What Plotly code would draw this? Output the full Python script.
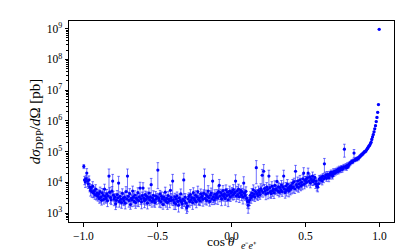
import numpy as np
import plotly.graph_objects as go

# bin centres of cos(theta), 400 bins of width 0.005
n_bins = 400
cos_theta = np.round(-0.9975 + 0.005 * np.arange(n_bins), 4)

# differential cross section [pb] (20 bins per line)
dsigma = [
    33000, 12000, 10500, 13000, 20000, 11000, 9000, 12000, 7000, 5500, 6500, 5000, 7500, 4500, 5200, 4000, 6000, 3800, 4500, 3500,
    4200, 3000, 5000, 3300, 2600, 4500, 3800, 2800, 6000, 3500, 3000, 4200, 2500, 3600, 16000, 4800, 3200, 2700, 5200, 11000,
    3800, 2900, 3300, 2000, 2600, 4000, 3100, 9500, 2400, 3500, 2800, 2200, 4400, 3000, 2500, 3300, 2100, 5000, 2900, 16000,
    3500, 2600, 4300, 1900, 3000, 2700, 5200, 3300, 2400, 3800, 2200, 3100, 2800, 4600, 2500, 3400, 6500, 2900, 2300, 3700,
    6500, 3000, 2500, 4000, 2800, 3500, 2100, 3200, 4500, 2700, 3300, 8400, 2400, 3000, 3800, 2600, 2200, 3600, 2900, 3400,
    25000, 3100, 2600, 4200, 2300, 3500, 2900, 1900, 3300, 2700, 4800, 2400, 3000, 2200, 3700, 2800, 2500, 5500, 3200, 2600,
    11000, 2700, 2200, 3400, 2000, 2900, 3600, 2400, 1800, 3100, 2600, 4200, 2300, 2000, 2800, 12000, 2500, 3300, 2100, 1500,
    1700, 2900, 3500, 2400, 4000, 2700, 3200, 2200, 4600, 3000, 2600, 3800, 2300, 3400, 5000, 2800, 3100, 2500, 4200, 3300,
    3600, 2800, 4400, 16000, 3000, 4000, 2600, 3500, 5200, 3200, 2400, 3800, 4500, 2900, 11000, 3400, 2700, 4100, 3100, 3700,
    4300, 3200, 5000, 8000, 3600, 4600, 2900, 3900, 5400, 3500, 4200, 3000, 5700, 3700, 4800, 2700, 4000, 5200, 3400, 4500,
    5000, 3800, 5800, 4200, 4700, 11000, 3600, 5300, 4000, 6000, 3400, 4600, 5500, 3900, 4900, 3300, 9500, 4400, 3700, 5100,
    3000, 2400, 1800, 2300, 2700, 3800, 3200, 4500, 3600, 5700, 4100, 3400, 5000, 30000, 4300, 3700, 5400, 4800, 4000, 6200,
    5500, 17000, 4700, 23000, 6300, 5200, 4200, 7000, 5800, 4500, 16000, 6600, 5000, 4300, 7500, 5400, 6100, 4600, 8000, 5700,
    6200, 10700, 5300, 7200, 4800, 6800, 5600, 8200, 5000, 7000, 16000, 6000, 4700, 7600, 5500, 8800, 6400, 5200, 7300, 6000,
    7800, 6500, 9500, 7000, 10500, 6200, 23000, 8500, 7300, 11000, 6800, 9000, 12000, 7600, 10000, 8200, 13000, 20000, 8800, 11500,
    12500, 10000, 14000, 20000, 11000, 15000, 9500, 13000, 11500, 16000, 10500, 12000, 14500, 9000, 11000, 7500, 7000, 9000, 12500, 13500,
    12000, 14500, 11000, 16000, 13000, 40000, 15000, 17500, 13500, 18000, 16500, 14000, 19000, 17000, 21000, 18500, 16000, 22000, 19500, 23000,
    21000, 24000, 22500, 26000, 23000, 28000, 25000, 27000, 30000, 26500, 29000, 32000, 120000, 31000, 34000, 30000, 36000, 33000, 38000, 40000,
    42000, 45000, 48000, 46000, 50000, 90000, 53000, 55000, 58000, 56000, 62000, 60000, 66000, 70000, 74000, 78000, 82000, 86000, 92000, 98000,
    100000, 105000, 115000, 125000, 135000, 150000, 160000, 180000, 200000, 250000, 300000, 360000, 440000, 550000, 700000, 950000, 1300000, 1900000, 3400000, 950000000,
]

# relative statistical uncertainty in percent
rel_err_pct = [
    15, 30, 35, 30, 40, 35, 30, 35, 30, 35, 30, 35, 40, 30, 35, 30, 40, 30, 35, 30,
    35, 30, 40, 35, 30, 40, 35, 30, 45, 35, 30, 40, 35, 30, 70, 40, 35, 30, 40, 65,
    35, 40, 30, 35, 40, 35, 30, 65, 35, 40, 30, 35, 40, 35, 30, 40, 35, 45, 30, 70,
    35, 40, 45, 30, 35, 40, 45, 35, 30, 40, 35, 30, 40, 45, 35, 30, 55, 35, 40, 30,
    50, 35, 40, 30, 35, 40, 35, 30, 45, 35, 40, 60, 35, 30, 40, 35, 30, 40, 35, 30,
    75, 35, 40, 30, 35, 40, 35, 30, 40, 35, 45, 35, 30, 40, 35, 30, 40, 50, 35, 30,
    65, 35, 40, 30, 35, 40, 35, 30, 40, 35, 30, 45, 35, 30, 40, 65, 35, 30, 40, 35,
    35, 40, 30, 35, 45, 35, 30, 40, 45, 35, 30, 40, 35, 30, 50, 35, 40, 30, 45, 35,
    35, 40, 30, 70, 35, 40, 30, 35, 50, 35, 30, 40, 45, 35, 65, 35, 30, 40, 35, 30,
    35, 40, 45, 55, 35, 30, 40, 35, 45, 30, 35, 40, 45, 35, 30, 40, 35, 45, 30, 35,
    35, 30, 45, 35, 30, 60, 35, 40, 30, 45, 35, 30, 40, 35, 30, 40, 60, 35, 30, 40,
    35, 40, 45, 40, 35, 30, 35, 40, 30, 45, 35, 30, 40, 70, 35, 30, 40, 35, 30, 45,
    30, 55, 30, 65, 35, 30, 35, 40, 30, 35, 55, 30, 35, 30, 40, 35, 30, 35, 40, 30,
    30, 50, 30, 35, 30, 35, 30, 40, 30, 35, 55, 30, 35, 30, 35, 40, 30, 35, 30, 35,
    30, 35, 30, 35, 30, 30, 55, 35, 30, 35, 30, 35, 40, 30, 35, 30, 40, 50, 30, 35,
    25, 30, 25, 45, 30, 25, 30, 25, 30, 35, 25, 30, 25, 30, 25, 30, 30, 25, 30, 25,
    25, 20, 25, 20, 25, 50, 20, 25, 20, 25, 20, 25, 20, 25, 20, 25, 20, 25, 20, 20,
    18, 20, 18, 20, 18, 20, 18, 20, 18, 20, 18, 20, 45, 18, 20, 18, 20, 15, 18, 15,
    14, 12, 14, 12, 14, 30, 12, 12, 12, 12, 10, 12, 10, 10, 10, 10, 10, 10, 8, 8,
    8, 8, 7, 7, 7, 6, 6, 6, 6, 6, 5, 5, 5, 5, 5, 5, 5, 5, 5, 3,
]

x_ticks = [-1.0, -0.5, 0.0, 0.5, 1.0]
x_tick_labels = ["\u22121.0", "\u22120.5", "0.0", "0.5", "1.0"]
y_exponents = [3, 4, 5, 6, 7, 8, 9]

y = np.array(dsigma, dtype=float)
err = y * np.array(rel_err_pct, dtype=float) / 100.0

font_family = "Liberation Serif, Times New Roman, serif"

fig = go.Figure()
fig.add_trace(go.Scatter(
    x=cos_theta, y=y, mode="markers",
    marker=dict(color="#0000ff", size=3.2, line=dict(width=0)),
    error_y=dict(type="data", array=err, visible=True,
                 color="rgba(30,30,255,0.7)", thickness=0.9, width=1.3),
    showlegend=False,
))

fig.update_layout(
    width=407, height=252,
    margin=dict(l=61, r=21, t=13, b=38),
    paper_bgcolor="white", plot_bgcolor="white",
    font=dict(family=font_family, size=11, color="black"),
)
# x-axis title: main part and subscript drawn as two adjacent texts
fig.add_annotation(
    xref="paper", yref="paper", x=0.517, y=-0.098, xanchor="right", yanchor="middle",
    text="cos\u2009<i>\u03b8</i>", showarrow=False, font=dict(size=13.5),
)
fig.add_annotation(
    xref="paper", yref="paper", x=0.522, y=-0.117, xanchor="left", yanchor="middle",
    text="<i>e</i>\u207b<i>e</i>\u207a", showarrow=False, font=dict(size=10),
)
fig.update_xaxes(
    range=[-1.0975, 1.0975],
    tickvals=x_ticks, ticktext=x_tick_labels,
    tickfont=dict(size=11.5),
    ticks="outside", ticklen=3.5, tickwidth=0.8, tickcolor="black",
    showline=True, mirror=True, linecolor="black", linewidth=1,
    showgrid=False, zeroline=False,
)
fig.update_yaxes(
    type="log", range=[2.71, 9.25],
    tickvals=[10.0 ** e for e in y_exponents],
    ticktext=[f"10<sup>{e}</sup>" for e in y_exponents],
    tickfont=dict(size=11.5),
    ticks="outside", ticklen=3.5, tickwidth=0.8, tickcolor="black",
    minor=dict(ticks="outside", ticklen=2, tickwidth=0.6, tickcolor="black", dtick="D1", showgrid=False),
    showline=True, mirror=True, linecolor="black", linewidth=1,
    showgrid=False, zeroline=False,
    title=dict(text="<i>d\u03c3</i><sub>DPP</sub>/<i>d</i>\u03a9 [pb]",
               font=dict(size=15), standoff=2),
)

fig.write_html("out.html")
